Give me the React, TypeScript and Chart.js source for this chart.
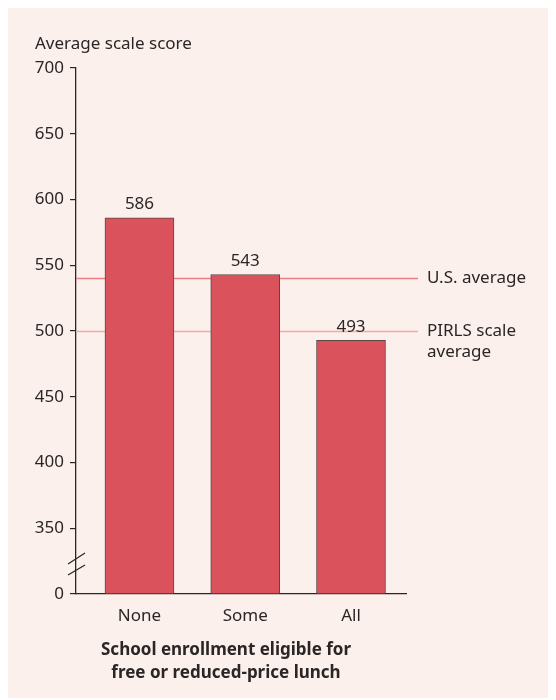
import React, { useEffect, useRef } from "react";
import { Chart, registerables } from "chart.js";

Chart.register(...registerables);

const categories = ["None", "Some", "All"];
const scores = [586, 543, 493];
const yTicks = [300, 350, 400, 450, 500, 550, 600, 650, 700];
const yTickLabels = ["0", "350", "400", "450", "500", "550", "600", "650", "700"];
const referenceValues = [540, 500];
const referenceLabels = [["U.S. average"], ["PIRLS scale", "average"]];
const yTitle = "Average scale score";
const xTitle = ["School enrollment eligible for", "free or reduced-price lunch"];

const FONT = "'Noto Sans', sans-serif";
const TEXT = "#2a2626";
const AXIS = "#2a2626";
const BG = "#fcf0ec";

export default function App() {
  const ref = useRef<HTMLCanvasElement | null>(null);

  useEffect(() => {
    if (!ref.current) return;

    const overlay = {
      id: "overlay",
      beforeDatasetsDraw(chart: any) {
        const { ctx, chartArea, scales } = chart;
        const colors = ["#ee7e84", "#f2a9ab"];
        ctx.save();
        referenceValues.forEach((v, i) => {
          const y = Math.round(scales.y.getPixelForValue(v)) + 0.5;
          ctx.strokeStyle = colors[i];
          ctx.lineWidth = 1.3;
          ctx.beginPath();
          ctx.moveTo(chartArea.left, y);
          ctx.lineTo(chartArea.right + 12, y);
          ctx.stroke();
        });
        ctx.restore();
      },
      afterDatasetsDraw(chart: any) {
        const { ctx, chartArea, scales } = chart;
        ctx.save();
        ctx.fillStyle = TEXT;
        ctx.font = `17px ${FONT}`;
        const meta = chart.getDatasetMeta(0);
        meta.data.forEach((el: any, i: number) => {
          ctx.textAlign = "center";
          ctx.textBaseline = "bottom";
          ctx.fillText(String(scores[i]), el.x, el.y - 5);
        });
        referenceValues.forEach((v, i) => {
          const y = scales.y.getPixelForValue(v);
          ctx.textAlign = "left";
          ctx.textBaseline = "middle";
          referenceLabels[i].forEach((t, j) => {
            ctx.fillText(t, chartArea.right + 21, y + j * 21);
          });
        });
        ctx.textAlign = "left";
        ctx.textBaseline = "middle";
        ctx.fillText(yTitle, 27, 37);
        ctx.font = `bold 17px ${FONT}`;
        ctx.textAlign = "center";
        xTitle.forEach((t, j) => {
          ctx.fillText(t, 218, 643 + j * 23);
        });
        const ax = chartArea.left;
        ctx.strokeStyle = AXIS;
        ctx.lineWidth = 1.2;
        ctx.beginPath();
        ctx.moveTo(ax - 8, 557);
        ctx.lineTo(ax + 9, 546);
        ctx.moveTo(ax - 8, 568);
        ctx.lineTo(ax + 9, 558);
        ctx.stroke();
        ctx.restore();
      },
    };

    const chart = new Chart(ref.current, {
      type: "bar",
      data: {
        datasets: [
          {
            data: categories.map((c, i) => ({ x: i, y: scores[i] })),
            base: 300,
            backgroundColor: "#da525c",
            borderColor: "#5e4646",
            borderWidth: 1,
            barThickness: 69,
          } as any,
        ],
      },
      options: {
        animation: false,
        responsive: false,
        maintainAspectRatio: false,
        layout: { padding: { left: 0, top: 61, right: 150, bottom: 0 } },
        plugins: { legend: { display: false }, tooltip: { enabled: false } },
        scales: {
          x: {
            type: "linear",
            offset: false,
            min: -0.6,
            max: 2.52,
            afterFit(scale: any) {
              scale.height = 104;
            },
            afterBuildTicks(scale: any) {
              scale.ticks = categories.map((_, i) => ({ value: i }));
            },
            ticks: {
              callback: (v: any) => categories[v] ?? "",
              color: TEXT,
              font: { family: FONT, size: 17 },
              padding: 12,
              maxRotation: 0,
              autoSkip: false,
            },
            grid: { display: false, drawTicks: false },
            border: { display: true, color: AXIS, width: 1.3 },
          },
          y: {
            type: "linear",
            min: 300,
            max: 700,
            afterFit(scale: any) {
              scale.width = 68;
            },
            afterBuildTicks(scale: any) {
              scale.ticks = yTicks.map((v) => ({ value: v }));
            },
            ticks: {
              callback: (v: any) => yTickLabels[yTicks.indexOf(v)] ?? "",
              color: TEXT,
              font: { family: FONT, size: 17 },
              padding: 6,
            },
            grid: {
              display: true,
              drawOnChartArea: false,
              drawTicks: true,
              tickLength: 6,
              color: AXIS,
              lineWidth: 1.2,
            },
            border: { display: true, color: AXIS, width: 1.3 },
          },
        },
      },
      plugins: [overlay],
    });
    return () => chart.destroy();
  }, []);

  return (
    <div style={{ width: 548, height: 691, background: BG, marginTop: -1 }}>
      <canvas ref={ref} width={548} height={691} style={{ display: "block" }} />
    </div>
  );
}
